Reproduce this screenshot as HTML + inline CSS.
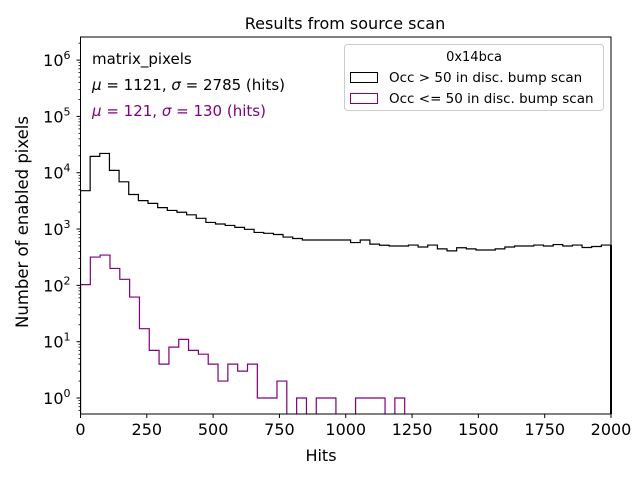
<!DOCTYPE html>
<html><head><meta charset="utf-8"><style>
body{margin:0;background:#fff}
svg{display:block;font-family:"DejaVu Sans","Liberation Sans",sans-serif}
</style></head><body>
<svg id="chart" width="640" height="480" viewBox="0 0 640 480">
<rect width="640" height="480" fill="#fff"/>
<text x="345" y="29" font-size="16" text-anchor="middle">Results from source scan</text>
<g id="plot"></g>
<g id="axes"></g>
<text x="92" y="64" font-size="15">matrix_pixels</text>
<text x="92" y="90" font-size="15"><tspan font-style="italic">μ</tspan> = 1121, <tspan font-style="italic">σ</tspan> = 2785 (hits)</text>
<text x="92" y="116" font-size="15" fill="#800080"><tspan font-style="italic">μ</tspan> = 121, <tspan font-style="italic">σ</tspan> = 130 (hits)</text>
<g>
<rect x="344.5" y="44.5" width="259" height="66" rx="3" fill="#fff" fill-opacity="0.8" stroke="#ccc"/>
<text x="474" y="61" font-size="13" text-anchor="middle">0x14bca</text>
<rect x="350.5" y="72.5" width="27" height="10" fill="none" stroke="#000"/>
<text x="389" y="82" font-size="13.5">Occ &gt; 50 in disc. bump scan</text>
<rect x="350.5" y="93.5" width="27" height="10" fill="none" stroke="#800080"/>
<text x="389" y="103" font-size="13.5">Occ &lt;= 50 in disc. bump scan</text>
</g>
<text x="321" y="461" font-size="16" text-anchor="middle">Hits</text>
<text x="28" y="222" font-size="16.5" text-anchor="middle" transform="rotate(-90 28 222)">Number of enabled pixels</text>
</svg>
<script>
const binMin = 0, binMax = 2000;
const blackCounts = [4800,19500,22000,11000,6900,4100,3200,2860,2400,2140,1990,1790,1550,1310,1230,1160,1070,990,870,840,800,720,680,640,640,640,640,640,575,640,540,515,500,500,520,480,520,445,410,465,445,425,425,445,480,500,500,520,500,530,500,520,470,490,520];
const purpleCounts = [103,318,345,200,128,62,17,7,4,8,11,7,6,4,2,4,3,4,1,1,2,0,1,0,1,1,0,0,1,1,1,0,1,0,0,0,0,0,0,0,0,0,0,0,0,0,0,0,0,0,0,0,0,0];
const xTicks = [0,250,500,750,1000,1250,1500,1750,2000];
const yTickExps = [0,1,2,3,4,5,6];

const L=80.5,R=611,T=37,B=414;
const yMinLog=-0.284,yMaxLog=6.41;
const xs=v=>L+(v-binMin)/(binMax-binMin)*(R-L);
const ys=v=>{if(v<=0)return B+20;const l=Math.log10(v);return B-(l-yMinLog)/(yMaxLog-yMinLog)*(B-T);};
const NS='http://www.w3.org/2000/svg';
const plot=document.getElementById('plot'),axes=document.getElementById('axes');
function mk(tag,at,parent){const e=document.createElementNS(NS,tag);for(const k in at)e.setAttribute(k,at[k]);parent.appendChild(e);return e;}
const defs=mk('defs',{},plot);const cp=mk('clipPath',{id:'clip'},defs);mk('rect',{x:L,y:T,width:R-L,height:B-T},cp);
function stepPath(counts){const n=counts.length,w=(binMax-binMin)/n;let d='M'+xs(binMin)+' '+(B+20);
for(let i=0;i<n;i++){const y=ys(counts[i]);d+=' L'+xs(binMin+i*w)+' '+y+' L'+xs(binMin+(i+1)*w)+' '+y;}
d+=' L'+xs(binMax)+' '+(B+20);return d;}
const g=mk('g',{'clip-path':'url(#clip)'},plot);
const p1=mk('path',{d:stepPath(blackCounts),fill:'none',stroke:'#000','stroke-width':1.2},g);


const p2=mk('path',{d:stepPath(purpleCounts),fill:'none',stroke:'#800080','stroke-width':1.2},g);


const frame=mk('rect',{x:L,y:T,width:R-L,height:B-T,fill:'none',stroke:'#000','stroke-width':1},axes);


mk('line',{x1:R,x2:R,y1:ys(blackCounts[blackCounts.length-1]),y2:B,stroke:'#000','stroke-width':2},axes);
xTicks.forEach(t=>{const x=xs(t);mk('line',{x1:x,x2:x,y1:B,y2:B+4,stroke:'#000'},axes);
const tx=mk('text',{x:x,y:B+21,'font-size':16,'text-anchor':'middle'},axes);tx.textContent=t;

});
yTickExps.forEach(e=>{const y=ys(Math.pow(10,e));mk('line',{x1:L-4,x2:L,y1:y,y2:y,stroke:'#000'},axes);
const tx=mk('text',{x:L-10,y:y+6,'font-size':16,'text-anchor':'end'},axes);tx.innerHTML='10<tspan dy="-7" font-size="11">'+e+'</tspan>';


for(let m=2;m<10;m++){const ym=ys(m*Math.pow(10,e));if(ym>T&&ym<B)mk('line',{x1:L-2,x2:L,y1:ym,y2:ym,stroke:'#000','stroke-width':0.8},axes);}});
{for(let m=2;m<10;m++){const ym=ys(m*0.1);if(ym>T&&ym<B)mk('line',{x1:L-2,x2:L,y1:ym,y2:ym,stroke:'#000','stroke-width':0.8},axes);}}
</script>
</body></html>
